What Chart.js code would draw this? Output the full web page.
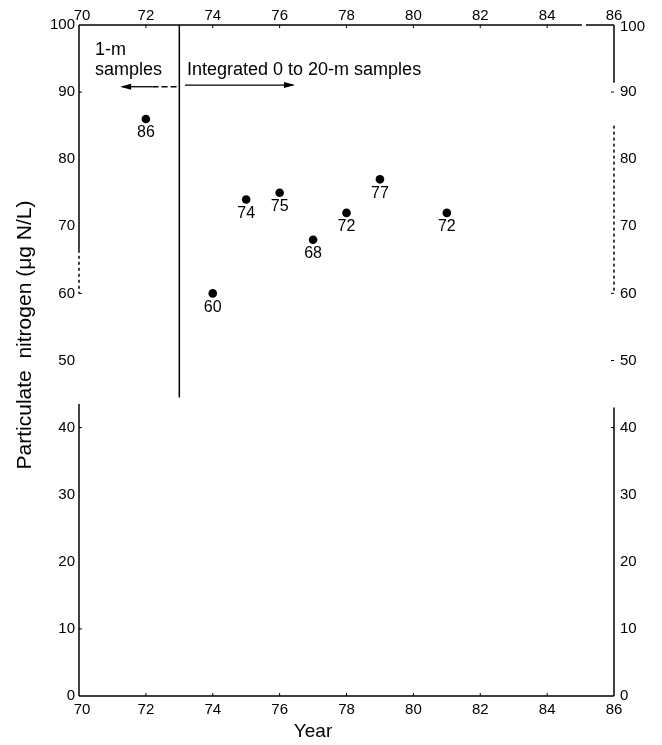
<!DOCTYPE html>
<html>
<head>
<meta charset="utf-8">
<script src="https://cdn.jsdelivr.net/npm/chart.js@4/dist/chart.umd.min.js"></script>
<style>
  html, body { margin: 0; padding: 0; background: #fff; }
  #wrap { width: 662px; height: 745px; }
</style>
</head>
<body>
<div id="wrap"><canvas id="c" width="662" height="745"></canvas></div>
<script>
// Particulate nitrogen by year
const years = [72, 74, 75, 76, 77, 78, 79, 81];
const nitrogen = [86, 60, 74, 75, 68, 72, 77, 72];

// Axis ticks
const xTicks = [70, 72, 74, 76, 78, 80, 82, 84, 86];
const yTicks = [0, 10, 20, 30, 40, 50, 60, 70, 80, 90, 100];

// Sampling change between the two methods
const methodChangeYear = 73;

const INK = '#000';
const FONT = '"Liberation Sans", Arial, Helvetica, sans-serif';

function seg(ctx, x1, y1, x2, y2, dash) {
  ctx.save();
  ctx.setLineDash(dash || []);
  ctx.beginPath();
  ctx.moveTo(x1, y1);
  ctx.lineTo(x2, y2);
  ctx.stroke();
  ctx.restore();
}

function arrowHead(ctx, tipX, y, dir) {
  ctx.beginPath();
  ctx.moveTo(tipX, y);
  ctx.lineTo(tipX - dir * 11, y - 3);
  ctx.lineTo(tipX - dir * 11, y + 3);
  ctx.closePath();
  ctx.fill();
}

const framePlugin = {
  id: 'frame',
  afterDatasetsDraw(chart) {
    const ctx = chart.ctx;
    const xs = chart.scales.x, ys = chart.scales.y;
    const X = v => xs.getPixelForValue(v);
    const Y = v => ys.getPixelForValue(v);
    const L = X(70), R = X(86), T = Y(100), B = Y(0);

    ctx.save();
    ctx.strokeStyle = INK;
    ctx.fillStyle = INK;
    ctx.lineWidth = 1.5;

    // frame with the printed breaks
    seg(ctx, L, B, R, B);                     // bottom
    seg(ctx, L, T, X(85.04), T);              // top
    seg(ctx, X(85.16), T, R, T);
    seg(ctx, L, T, L, Y(66.5));               // left
    seg(ctx, L, Y(66.5), L, Y(60), [3, 3]);
    seg(ctx, L, Y(43.5), L, B);
    seg(ctx, R, T, R, Y(91.4));               // right
    seg(ctx, R, Y(85), R, Y(60), [3, 3]);
    seg(ctx, R, Y(43), R, B);

    // short inward tick marks
    ctx.lineWidth = 1;
    xTicks.slice(1, -1).forEach(v => {
      seg(ctx, X(v), T, X(v), T + 3);
      seg(ctx, X(v), B, X(v), B - 3);
    });
    [90, 60, 40, 10].forEach(v => seg(ctx, L, Y(v), L + 3, Y(v)));
    [90, 60, 50, 40].forEach(v => seg(ctx, R, Y(v), R - 3, Y(v)));

    // divider between 1-m and integrated samples
    ctx.lineWidth = 1.5;
    seg(ctx, X(methodChangeYear), T, X(methodChangeYear), Y(44.5));

    // arrows
    ctx.lineWidth = 1.3;
    const ya = Y(90.8);
    seg(ctx, X(71.3), ya, X(72.2), ya);
    seg(ctx, X(72.2), ya, X(72.96), ya, [6, 3]);
    arrowHead(ctx, X(71.23), ya, -1);
    const yb = Y(91.05);
    seg(ctx, X(73.17), yb, X(76.4), yb);
    arrowHead(ctx, X(76.46), yb, 1);

    // annotation text
    ctx.font = '18px ' + FONT;
    ctx.textAlign = 'left';
    ctx.textBaseline = 'alphabetic';
    ctx.fillText('1-m', X(70.48), Y(95.5));
    ctx.fillText('samples', X(70.48), Y(92.6));
    ctx.fillText('Integrated 0 to 20-m samples', X(73.23), Y(92.6));

    // value labels under the points
    ctx.font = '16px ' + FONT;
    ctx.textAlign = 'center';
    ctx.textBaseline = 'middle';
    years.forEach((yr, i) => {
      ctx.fillText(String(nitrogen[i]), X(yr), Y(nitrogen[i]) + 14);
    });

    // tick labels
    ctx.font = '15px ' + FONT;
    ctx.textBaseline = 'middle';
    ctx.textAlign = 'center';
    xTicks.forEach(v => {
      ctx.fillText(String(v), X(v) + (v === 70 ? 3 : 0), B + 14);
      ctx.fillText(String(v), X(v) + (v === 70 ? 3 : 0), T - 9);
    });
    ctx.textAlign = 'right';
    yTicks.forEach(v => ctx.fillText(String(v), L - 4, Y(v)));
    ctx.textAlign = 'left';
    yTicks.forEach(v => ctx.fillText(String(v), R + 6, Y(v) + (v === 100 ? 2 : 0)));

    // axis titles
    ctx.font = '19px ' + FONT;
    ctx.textAlign = 'center';
    ctx.fillText('Year', X(77.0), B + 36);
    ctx.save();
    ctx.translate(25, Y(53.8));
    ctx.rotate(-Math.PI / 2);
    ctx.font = '21px ' + FONT;
    ctx.fillText('Particulate  nitrogen (\u03bcg N/L)', 0, 0);
    ctx.restore();

    ctx.restore();
  }
};

new Chart(document.getElementById('c'), {
  type: 'scatter',
  data: {
    datasets: [{
      data: years.map((yr, i) => ({ x: yr, y: nitrogen[i] })),
      pointRadius: 4.3,
      pointHoverRadius: 4.3,
      pointBackgroundColor: INK,
      pointBorderColor: INK,
      pointBorderWidth: 0
    }]
  },
  options: {
    responsive: false,
    animation: false,
    events: [],
    layout: { padding: { left: 79, right: 48, top: 25, bottom: 49 } },
    plugins: { legend: { display: false }, tooltip: { enabled: false } },
    scales: {
      x: { type: 'linear', min: 70, max: 86, display: false },
      y: { type: 'linear', min: 0, max: 100, display: false }
    }
  },
  plugins: [framePlugin]
});
</script>
</body>
</html>
